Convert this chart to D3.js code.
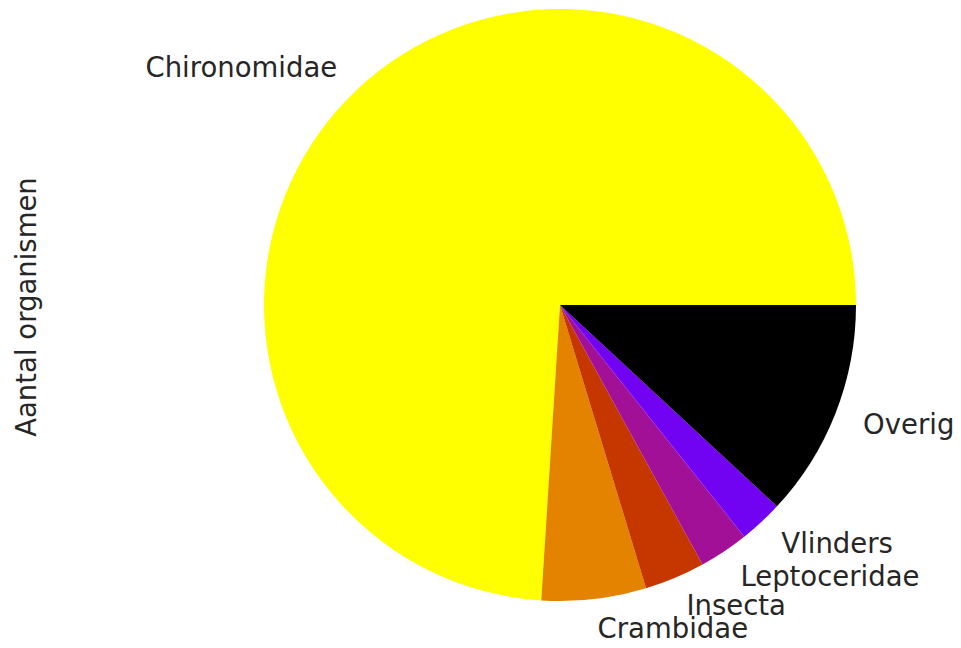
<!DOCTYPE html>
<html>
<head>
<meta charset="UTF-8">
<title>Aantal organismen</title>
<style>
  body { margin: 0; background: #fff; }
  text { font-family: "DejaVu Sans", sans-serif; }
</style>
</head>
<body>
<script src="https://cdn.jsdelivr.net/npm/d3@7"></script>
<script>
// data
var categories = ["Chironomidae", "Crambidae", "Insecta", "Leptoceridae", "Vlinders", "Overig"];
var values = [73.97, 5.7, 3.3, 2.7, 2.4, 11.9];
var colors = ["#ffff00", "#e48300", "#c63700", "#a11096", "#7202f2", "#000000"];
var yLabel = "Aantal organismen";

var width = 961, height = 648;
var cx = 560, cy = 305, r = 296;
var fontSize = 27.5;

var svg = d3.select("body").append("svg")
    .attr("width", width)
    .attr("height", height);

// matplotlib style: start at 3 o'clock, counter clockwise
var pie = d3.pie()
    .sort(null)
    .startAngle(Math.PI / 2)
    .endAngle(Math.PI / 2 - 2 * Math.PI);

var arcs = pie(values);
var arc = d3.arc().innerRadius(0).outerRadius(r);
var labelArc = d3.arc().innerRadius(r * 1.1).outerRadius(r * 1.1);

var g = svg.append("g").attr("transform", "translate(" + cx + "," + cy + ")");

g.selectAll("path")
    .data(arcs)
    .enter().append("path")
    .attr("d", arc)
    .attr("fill", function(d, i) { return colors[i]; });

// slice labels, left/right aligned like matplotlib
g.selectAll("text.lbl")
    .data(arcs)
    .enter().append("text")
    .attr("class", "lbl")
    .attr("x", function(d) { return labelArc.centroid(d)[0]; })
    .attr("y", function(d) { return labelArc.centroid(d)[1]; })
    .attr("dy", "0.35em")
    .attr("text-anchor", function(d) { return labelArc.centroid(d)[0] > 0 ? "start" : "end"; })
    .attr("font-size", fontSize)
    .attr("fill", "#262626")
    .text(function(d, i) { return categories[i]; });

// y label
svg.append("text")
    .attr("transform", "translate(36," + 307 + ") rotate(-90)")
    .attr("text-anchor", "middle")
    .attr("font-size", fontSize)
    .attr("fill", "#262626")
    .text(yLabel);
</script>
</body>
</html>
